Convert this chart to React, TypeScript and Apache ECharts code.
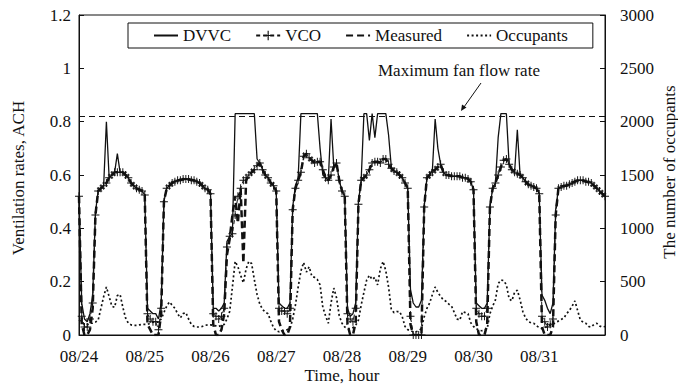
import React, { useEffect, useRef } from "react";
import * as echarts from "echarts";

// Hourly data from 08/24 00:00 (index 0) to 09/01 00:00 (index 192)
const dateLabels = ["08/24", "08/25", "08/26", "08/27", "08/28", "08/29", "08/30", "08/31"];

const dvvc = [
  0.52, 0.12, 0.06, 0.05, 0.08, 0.15, 0.46, 0.54, 0.55, 0.56, 0.80, 0.59, 0.60, 0.61, 0.68, 0.61, 0.61, 0.60, 0.59, 0.57, 0.56, 0.55, 0.545, 0.54,
  0.525, 0.10, 0.09, 0.08, 0.08, 0.06, 0.12, 0.50, 0.55, 0.56, 0.57, 0.575, 0.58, 0.58, 0.585, 0.585, 0.585, 0.58, 0.58, 0.575, 0.57, 0.56, 0.55, 0.545,
  0.53, 0.10, 0.10, 0.09, 0.10, 0.12, 0.35, 0.37, 0.38, 0.83, 0.83, 0.83, 0.83, 0.83, 0.83, 0.83, 0.83, 0.66, 0.645, 0.62, 0.60, 0.59, 0.57, 0.56,
  0.54, 0.12, 0.11, 0.10, 0.10, 0.12, 0.48, 0.56, 0.59, 0.83, 0.83, 0.83, 0.83, 0.83, 0.83, 0.83, 0.70, 0.60, 0.59, 0.58, 0.81, 0.63, 0.645, 0.58,
  0.54, 0.52, 0.10, 0.07, 0.08, 0.12, 0.50, 0.58, 0.83, 0.83, 0.73, 0.83, 0.74, 0.83, 0.83, 0.83, 0.83, 0.75, 0.63, 0.615, 0.61, 0.60, 0.59, 0.57,
  0.55, 0.17, 0.12, 0.105, 0.105, 0.13, 0.48, 0.59, 0.60, 0.62, 0.81, 0.70, 0.64, 0.61, 0.60, 0.60, 0.595, 0.595, 0.595, 0.595, 0.59, 0.59, 0.585, 0.575,
  0.545, 0.12, 0.11, 0.10, 0.10, 0.12, 0.48, 0.55, 0.57, 0.74, 0.83, 0.83, 0.83, 0.64, 0.62, 0.61, 0.77, 0.60, 0.59, 0.575, 0.565, 0.56, 0.555, 0.55,
  0.53, 0.15, 0.13, 0.10, 0.08, 0.12, 0.47, 0.55, 0.555, 0.56, 0.56, 0.565, 0.57, 0.575, 0.58, 0.58, 0.58, 0.575, 0.575, 0.57, 0.56, 0.55, 0.54, 0.53, 0.52,
];

const vco = [
  0.52, 0.07, 0.03, 0.03, 0.06, 0.12, 0.45, 0.54, 0.55, 0.56, 0.57, 0.59, 0.60, 0.61, 0.61, 0.61, 0.61, 0.60, 0.59, 0.57, 0.56, 0.55, 0.545, 0.54,
  0.525, 0.08, 0.06, 0.05, 0.05, 0.02, 0.10, 0.50, 0.55, 0.56, 0.57, 0.575, 0.58, 0.58, 0.585, 0.585, 0.585, 0.58, 0.58, 0.575, 0.57, 0.56, 0.55, 0.545,
  0.53, 0.08, 0.07, 0.06, 0.07, 0.10, 0.33, 0.37, 0.38, 0.45, 0.52, 0.55, 0.58, 0.59, 0.60, 0.61, 0.62, 0.635, 0.645, 0.62, 0.60, 0.59, 0.57, 0.56,
  0.54, 0.10, 0.09, 0.09, 0.08, 0.10, 0.47, 0.55, 0.58, 0.61, 0.67, 0.68, 0.665, 0.655, 0.645, 0.65, 0.65, 0.62, 0.59, 0.58, 0.60, 0.63, 0.645, 0.58,
  0.54, 0.52, 0.08, 0.06, 0.05, 0.10, 0.49, 0.58, 0.59, 0.60, 0.62, 0.645, 0.65, 0.65, 0.645, 0.66, 0.66, 0.64, 0.625, 0.615, 0.61, 0.60, 0.59, 0.57,
  0.55, 0.07, 0.0, 0.0, 0.0, 0.0, 0.48, 0.59, 0.60, 0.61, 0.62, 0.63, 0.64, 0.61, 0.60, 0.60, 0.595, 0.595, 0.595, 0.595, 0.59, 0.59, 0.585, 0.575,
  0.545, 0.10, 0.08, 0.07, 0.07, 0.10, 0.48, 0.55, 0.57, 0.60, 0.63, 0.655, 0.66, 0.64, 0.62, 0.61, 0.605, 0.60, 0.59, 0.575, 0.565, 0.56, 0.555, 0.55,
  0.53, 0.07, 0.05, 0.03, 0.04, 0.06, 0.45, 0.55, 0.555, 0.56, 0.56, 0.565, 0.57, 0.575, 0.58, 0.58, 0.58, 0.575, 0.575, 0.57, 0.56, 0.55, 0.54, 0.53, 0.52,
];

const measured = [
  0.52, 0.04, 0.0, 0.0, 0.02, 0.10, 0.45, 0.54, 0.55, 0.56, 0.57, 0.59, 0.60, 0.61, 0.61, 0.61, 0.61, 0.60, 0.59, 0.57, 0.56, 0.55, 0.545, 0.54,
  0.525, 0.04, 0.02, 0.0, 0.0, 0.0, 0.08, 0.50, 0.55, 0.56, 0.57, 0.575, 0.58, 0.58, 0.585, 0.585, 0.585, 0.58, 0.58, 0.575, 0.57, 0.56, 0.55, 0.545,
  0.53, 0.04, 0.0, 0.0, 0.02, 0.08, 0.30, 0.36, 0.45, 0.52, 0.42, 0.55, 0.27, 0.58, 0.60, 0.61, 0.62, 0.635, 0.645, 0.62, 0.60, 0.59, 0.57, 0.56,
  0.54, 0.05, 0.02, 0.0, 0.0, 0.03, 0.47, 0.55, 0.58, 0.61, 0.67, 0.68, 0.665, 0.655, 0.645, 0.65, 0.65, 0.62, 0.59, 0.58, 0.60, 0.63, 0.645, 0.58,
  0.54, 0.52, 0.04, 0.0, 0.0, 0.05, 0.49, 0.58, 0.59, 0.60, 0.62, 0.645, 0.65, 0.65, 0.645, 0.66, 0.66, 0.64, 0.625, 0.615, 0.61, 0.60, 0.59, 0.57,
  0.55, 0.04, 0.0, 0.0, 0.0, 0.0, 0.48, 0.59, 0.60, 0.61, 0.62, 0.63, 0.64, 0.61, 0.60, 0.60, 0.595, 0.595, 0.595, 0.595, 0.59, 0.59, 0.585, 0.575,
  0.545, 0.05, 0.0, 0.0, 0.0, 0.04, 0.48, 0.55, 0.57, 0.60, 0.63, 0.655, 0.66, 0.64, 0.62, 0.61, 0.605, 0.60, 0.59, 0.575, 0.565, 0.56, 0.555, 0.55,
  0.53, 0.03, 0.0, 0.0, 0.0, 0.03, 0.45, 0.55, 0.555, 0.56, 0.56, 0.565, 0.57, 0.575, 0.58, 0.58, 0.58, 0.575, 0.575, 0.57, 0.56, 0.55, 0.54, 0.53, 0.52,
];

const occupants = [
  140, 120, 100, 100, 110, 110, 120, 140, 250, 360, 450, 360, 270, 260, 370, 380, 260, 160, 110, 95, 90, 90, 95, 100,
  100, 100, 110, 120, 120, 120, 150, 210, 270, 310, 280, 250, 200, 160, 200, 210, 150, 100, 80, 75, 75, 80, 90, 95,
  95, 90, 85, 80, 90, 100, 150, 220, 450, 690, 640, 560, 490, 620, 690, 670, 520, 380, 290, 240, 215, 200, 130, 70,
  40, 30, 40, 45, 50, 60, 150, 280, 450, 600, 680, 590, 640, 550, 540, 520, 470, 260, 180, 110, 300, 440, 350, 180,
  110, 75, 60, 60, 70, 90, 140, 280, 400, 515, 560, 520, 540, 470, 620, 690, 600, 450, 240, 210, 220, 220, 170, 80,
  50, 40, 30, 30, 40, 60, 170, 250, 300, 380, 450, 400, 360, 330, 315, 290, 270, 210, 150, 140, 220, 210, 200, 115,
  80, 60, 45, 40, 45, 60, 200, 270, 330, 480, 515, 510, 470, 340, 320, 400, 420, 330, 220, 160, 125, 115, 110, 85,
  70, 60, 70, 80, 90, 100, 120, 130, 145, 160, 200, 230, 270, 320, 230, 140, 120, 110, 80, 75, 100, 110, 85, 75, 80,
];

const maxFanFlow = 0.82;

const FONT = '"Liberation Serif", "Times New Roman", serif';
const INK = "#111";
const PLUS = "path://M4.4,0H5.6V4.4H10V5.6H5.6V10H4.4V5.6H0V4.4H4.4Z";

const toPairs = (arr: number[]) => arr.map((v, i) => [i, v]);

const titleText = (text: string, x: number, y: number, rotation: number) => ({
  type: "text",
  x,
  y,
  rotation,
  silent: true,
  style: {
    text,
    fontFamily: FONT,
    fontSize: 17,
    fill: INK,
    textAlign: "center",
    textVerticalAlign: "middle",
  },
});

export default function App() {
  const ref = useRef<HTMLDivElement>(null);

  useEffect(() => {
    if (!ref.current) return;
    const chart = echarts.init(ref.current, null, { renderer: "svg" });
    const hidden = { opacity: 0 };
    const option: any = {
      animation: false,
      backgroundColor: "#fff",
      textStyle: { fontFamily: FONT, color: INK },
      grid: {
        left: 79,
        right: 73,
        top: 15,
        bottom: 53,
        containLabel: false,
        outerBoundsMode: "none",
        show: true,
        borderColor: INK,
        borderWidth: 1,
        backgroundColor: "transparent",
      },
      legend: {
        left: 128,
        top: 23,
        padding: [4, 25, 4, 25],
        itemGap: 24,
        itemWidth: 24,
        itemHeight: 12,
        borderColor: INK,
        borderWidth: 1,
        textStyle: { fontFamily: FONT, fontSize: 17, color: INK },
        data: [
          { name: "DVVC", itemStyle: hidden },
          { name: "VCO" },
          { name: "Measured", itemStyle: hidden },
          { name: "Occupants", itemStyle: hidden },
        ],
      },
      xAxis: {
        type: "value",
        min: 0,
        max: 192,
        interval: 24,
        axisLine: { show: true, lineStyle: { color: INK, width: 1 } },
        axisTick: { show: false },
        splitLine: { show: false },
        axisLabel: {
          fontFamily: FONT,
          fontSize: 17,
          color: INK,
          margin: 13,
          showMaxLabel: false,
          formatter: (v: number) => dateLabels[Math.round(v / 24)] ?? "",
        },
      },
      yAxis: [
        {
          type: "value",
          min: 0,
          max: 1.2,
          interval: 0.2,
          axisLine: { show: true, lineStyle: { color: INK } },
          axisTick: { show: true, inside: true, length: 5, lineStyle: { color: INK } },
          splitLine: { show: false },
          axisLabel: { fontFamily: FONT, fontSize: 17, color: INK, margin: 8 },
        },
        {
          type: "value",
          min: 0,
          max: 3000,
          interval: 500,
          axisLine: { show: true, lineStyle: { color: INK } },
          axisTick: { show: true, inside: true, length: 5, lineStyle: { color: INK } },
          splitLine: { show: false },
          axisLabel: {
            fontFamily: FONT,
            fontSize: 17,
            color: INK,
            margin: 15,
            formatter: (v: number) => String(v),
          },
        },
      ],
      series: [
        {
          name: "DVVC",
          type: "line",
          data: toPairs(dvvc),
          showSymbol: false,
          symbol: "none",
          lineStyle: { color: INK, width: 1.3, type: "solid" },
          itemStyle: { color: INK },
          z: 3,
          markLine: {
            silent: true,
            symbol: ["none", "none"],
            label: { show: false },
            lineStyle: { color: INK, width: 1, type: [6, 4] },
            data: [{ yAxis: maxFanFlow }],
          },
        },
        {
          name: "VCO",
          type: "line",
          data: toPairs(vco),
          showSymbol: true,
          symbol: PLUS,
          symbolSize: 8,
          lineStyle: { color: INK, width: 1, type: [4, 3] },
          itemStyle: { color: INK },
          z: 4,
        },
        {
          name: "Measured",
          type: "line",
          data: toPairs(measured),
          showSymbol: false,
          symbol: "none",
          lineStyle: { color: INK, width: 2.5, type: [7, 4] },
          itemStyle: { color: INK },
          z: 2,
        },
        {
          name: "Occupants",
          type: "line",
          yAxisIndex: 1,
          data: toPairs(occupants),
          showSymbol: false,
          symbol: "none",
          lineStyle: { color: INK, width: 1.7, type: [2, 2.5] },
          itemStyle: { color: INK },
          z: 1,
        },
      ],
      graphic: [
        titleText("Time, hour", 342, 375, 0),
        titleText("Ventilation rates, ACH", 18, 178, Math.PI / 2),
        titleText("The number of occupants", 669, 172, Math.PI / 2),
        {
          type: "text",
          left: 378,
          top: 62,
          style: {
            text: "Maximum fan flow rate",
            fontFamily: FONT,
            fontSize: 17,
            fill: INK,
          },
        },
        {
          type: "line",
          shape: { x1: 481, y1: 83, x2: 464, y2: 107 },
          style: { stroke: INK, lineWidth: 1 },
        },
        {
          type: "polygon",
          shape: { points: [[461, 111], [466.5, 107.5], [462, 104.5]] },
          style: { fill: INK },
        },
      ],
    };
    chart.setOption(option);
    return () => chart.dispose();
  }, []);

  return (
    <div
      ref={ref}
      style={{ position: "fixed", left: 0, top: 0, width: 678, height: 388, margin: 0 }}
    />
  );
}
